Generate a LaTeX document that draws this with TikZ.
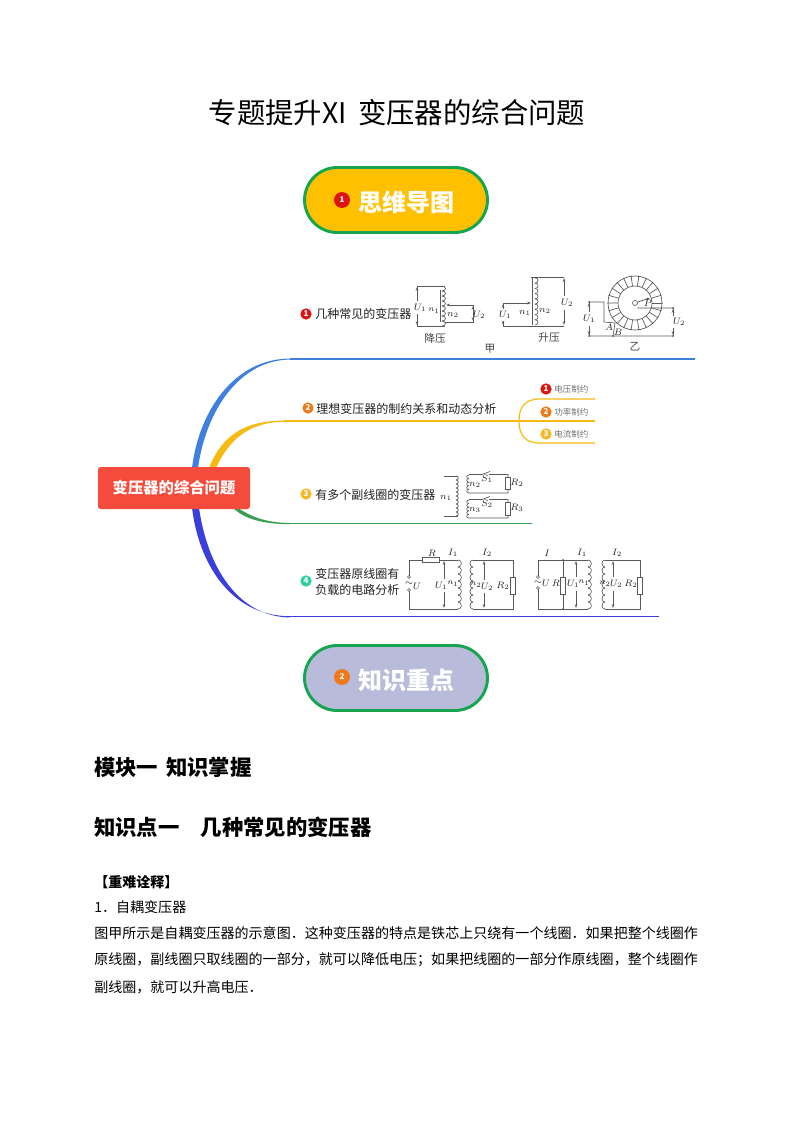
\documentclass[tikz,border=0pt]{standalone}
\usepackage{fontspec}
\setmainfont{Noto Sans CJK SC}
\usetikzlibrary{arrows.meta}
\definecolor{wire}{HTML}{5A5A5A}
\definecolor{ink}{HTML}{222222}
\definecolor{blueb}{HTML}{3F80DE}
\definecolor{goldb}{HTML}{F5BB12}
\definecolor{greenb}{HTML}{3A9D50}
\definecolor{navyb}{HTML}{3A3EDB}
\definecolor{rootred}{HTML}{F44C3C}
\definecolor{bred}{HTML}{DD1410}
\definecolor{borange}{HTML}{EE7A1A}
\definecolor{bgold}{HTML}{F6B926}
\definecolor{bgreen}{HTML}{2FD0A0}
\definecolor{pillgreen}{HTML}{18A552}
\definecolor{pillgold}{HTML}{FFC000}
\definecolor{pillblue}{HTML}{B8BBD9}
\newcounter{lb}
\newcommand\fsz[1]{\fontsize{#1}{#1}\selectfont}
\newcommand\lbl[3][cirlabel]{\stepcounter{lb}\node[#1] (t\thelb) at (#2) {#3};}
\newcommand\coil[5]{\foreach \ci in {1,...,#4}{
  \pgfmathsetmacro\ya{#2+(\ci-1)*(#3-#2)/#4}
  \pgfmathsetmacro\yb{#2+\ci*(#3-#2)/#4}
  \draw[cw] (#1,\ya) .. controls (#1+#5,\ya) and (#1+#5,\yb) .. (#1,\yb);}}
\newcommand\badge[4]{\stepcounter{lb}\node[badgenode,fill=#3,minimum size=#4] (t\thelb) at (#1) {#2};}
\tikzset{
 cw/.style={draw=wire,line width=.5pt},
 tipstart/.style={cw,{Stealth[length=3pt,width=2pt]}-},
 tipend/.style={cw,-{Stealth[length=3pt,width=2pt]}},
 cirlabel/.style={inner sep=0,text=ink,font=\fsz{7}},
 smalllabel/.style={inner sep=0,text=ink,font=\fsz{6}},
 cjklabel/.style={inner sep=0,text=ink!85,font=\fsz{8}},
 maintext/.style={inner sep=0,anchor=west,text=ink,font=\fsz{9}},
 subtext/.style={inner sep=0,anchor=west,text=black!55,font=\fsz{6.4}},
 bodytext/.style={inner sep=0,anchor=west,text=black,font=\fsz{10.53}},
 heading/.style={inner sep=0,anchor=west,text=black,font=\fsz{16}\bfseries},
 badgenode/.style={circle,inner sep=0,text=white,font=\fsz{6}\bfseries},
 resbox/.style={draw=wire,line width=.5pt,fill=white},
 pill/.style={rounded corners=24.5pt,line width=2.2pt,draw=pillgreen},
 pilltext/.style={inner sep=0,text=white,font=\fsz{18}\bfseries},
 dotmark/.style={fill=wire,draw=none}
}
\begin{document}
\begin{tikzpicture}[x=.75pt,y=-.75pt]
\useasboundingbox[fill=white] (0,0) rectangle (794,1123);
% title
\lbl[inner sep=0,text=black,font=\fsz{21.3}]{397,113}{专题提升XI\hspace{8.5pt}变压器的综合问题}
% pills
\path[pill,fill=pillgold] (304.5,167.5) rectangle (487.5,232.5);
\badge{342,200}{1}{bred}{12pt}
\lbl[pilltext]{406.5,202}{思维导图}
\path[pill,fill=pillblue] (304.5,645.5) rectangle (487.5,710.5);
\badge{342,677}{2}{borange}{12pt}
\lbl[pilltext]{406.5,680}{知识重点}
% branches
\fill[blueb] (192,468) .. controls (199,410) and (235,358.6) .. (290,358.6) -- (290,359.6) .. controls (240,360) and (206,410) .. (198,468) -- cycle;
\draw[blueb,line width=1pt] (290,359) -- (695,359);
\fill[goldb] (209,468) .. controls (222,435) and (245,420.6) .. (284,420.6) -- (284,421.8) .. controls (252,422) and (230,437) .. (216,468) -- cycle;
\draw[goldb,line width=1pt] (284,421) -- (595,421);
\fill[greenb] (238,508) .. controls (250,516) and (265,522.8) .. (290,523) -- (290,524.2) .. controls (262,524) and (245,519) .. (233,508) -- cycle;
\draw[greenb,line width=1pt] (290,523.6) -- (532,523.6);
\fill[navyb] (192,508) .. controls (200,570) and (235,616.2) .. (290,616.2) -- (290,617.4) .. controls (240,617) and (208,570) .. (199,508) -- cycle;
\draw[navyb,line width=1pt] (290,616.8) -- (659,616.8);
% sub branches
\draw[goldb,line width=.9pt] (540,399) -- (595,399) (540,399) .. controls (525,399) and (519,407) .. (519,421) .. controls (519,435) and (525,443) .. (540,443) -- (595,443);
% root
\node[fill=rootred,rounded corners=2pt,minimum width=114pt,minimum height=31.5pt,inner sep=0,text=white,font=\fsz{11.5}\bfseries] (root) at (174,488) {变压器的综合问题};
% branch 1
\badge{306,314}{1}{bred}{8.5pt}
\lbl[maintext]{315,314}{几种常见的变压器}
% step-down
\draw[cw] (417,301) -- (417,286) -- (445,286) (417,314) -- (417,326) -- (445,326) (473,305) -- (473,322) -- (445,322);
\draw[tipend] (473,305) -- (446,305);
\draw[tipstart] (417,287) -- (417,301);
\draw[tipstart] (417,325) -- (417,314);
\draw[tipstart] (473,306) -- (473,310);
\draw[tipstart] (473,321) -- (473,317);
\draw[cw,line width=.7pt] (440,290) -- (440,322);
\coil{442}{286}{326}{8}{4.5}
\lbl{420,308}{$U_1$}\lbl[smalllabel]{434,311}{$n_1$}\lbl{453,315}{$n_2$}\lbl{479,315}{$U_2$}
\lbl[cjklabel]{435,338}{降压}
% step-up
\draw[cw] (531,277) -- (564,277) (503,309) -- (503,303) (503,321) -- (503,326) -- (564,326);
\draw[tipend] (503,303) -- (531,303);
\draw[tipstart] (564,278) -- (564,296);
\draw[tipstart] (564,325) -- (564,310);
\draw[tipstart] (503,304) -- (503,309);
\draw[tipstart] (503,325) -- (503,321);
\draw[cw,line width=.7pt] (532,278) -- (532,325);
\coil{535}{278}{325}{9}{4}
\lbl{505,315}{$U_1$}\lbl{525,313}{$n_1$}\lbl{545,311}{$n_2$}\lbl{567,303}{$U_2$}
\lbl[cjklabel]{549,338}{升压}
\lbl[cjklabel]{490,349}{甲}
% toroid
\draw[cw] (635,303) circle (27) (635,303) circle (17);
\foreach \ang in {0,16.36,...,345}{
  \draw[cw] ({635+17*cos(\ang)},{303+17*sin(\ang)}) -- ({635+27*cos(\ang)},{303+27*sin(\ang)});
  \fill[dotmark] ({635+27*cos(\ang)},{303+27*sin(\ang)}) circle (.7);}
\draw[cw,fill=white] (635,303) circle (2.5);
\draw[tipend] (638,302) -- (650,298);
\draw[cw] (589,302) -- (604,302) -- (604,322) -- (615,323) (637,308) -- (673,308) (589,336) -- (673,336) (613,336) -- (615,323);
\draw[cw] (589,312) -- (589,302) (589,326) -- (589,336) (673,308) -- (673,316) (673,328) -- (673,336);
\draw[tipstart] (589,303) -- (589,312);
\draw[tipstart] (589,335) -- (589,326);
\draw[tipstart] (673,309) -- (673,316);
\draw[tipstart] (673,335) -- (673,328);
\foreach \dotx/\doty in {589/302,589/336,673/308,673/336,613/336}{\fill[dotmark] (\dotx,\doty) circle (1);}
\lbl{589,319}{$U_1$}\lbl{679,322}{$U_2$}\lbl{648,303}{$P$}\lbl{609,327}{$A$}\lbl{618,332}{$B$}
\lbl[cjklabel]{635,347}{乙}
% branch 2
\badge{308,408}{2}{borange}{8.5pt}
\lbl[maintext]{316,409}{理想变压器的制约关系和动态分析}
\badge{546,389}{1}{bred}{8.5pt}\lbl[subtext]{554,389.5}{电压制约}
\badge{546,412}{2}{borange}{8.5pt}\lbl[subtext]{554,412}{功率制约}
\badge{546,434}{3}{bgold}{8.5pt}\lbl[subtext]{554,434.5}{电流制约}
% branch 3
\badge{306,494}{3}{bgold}{8.5pt}
\lbl[maintext]{315,495}{有多个副线圈的变压器}
\draw[cw] (444,476) -- (458,476) (444,516) -- (458,516);
\coil{456}{476}{516}{10}{3}
\coil{469}{475}{493}{5}{-3}
\coil{469}{500}{518}{5}{-3}
\draw[cw] (469,474.5) -- (482,474.5) -- (490,471.5) (489,474.5) -- (508,474.5) -- (508,493) -- (469,493);
\draw[cw] (469,499.5) -- (482,499.5) -- (490,496.5) (489,499.5) -- (508,499.5) -- (508,518) -- (469,518);
\draw[resbox] (505.5,477) rectangle (510.5,489);
\draw[resbox] (505.5,502) rectangle (510.5,515);
\lbl{446,498}{$n_1$}\lbl{475,485}{$n_2$}\lbl{475,510}{$n_3$}
\lbl{487,479}{$S_1$}\lbl{487,504}{$S_2$}\lbl{517,483}{$R_2$}\lbl{517,508}{$R_3$}
% branch 4
\badge{306,581}{4}{bgreen}{8.5pt}
\lbl[maintext]{315,574}{变压器原线圈有}
\lbl[maintext]{315,590}{负载的电路分析}
% circuit a
\draw[cw] (409,577) -- (409,560) -- (458,560) (409,590) -- (409,609) -- (458,609);
\draw[resbox] (422,557.5) rectangle (439,562.5);
\draw[cw,fill=white] (409,577) circle (1.5) (409,590) circle (1.5);
\coil{458}{560}{609}{7}{4.5}
\draw[tipstart] (444,561) -- (444,579); \draw[tipstart] (444,608) -- (444,592);
\coil{473}{560}{609}{7}{-4}
\draw[cw] (473,560) -- (513,560) -- (513,609) -- (473,609);
\draw[resbox] (510.5,577) rectangle (515.5,594);
\draw[tipstart] (484,561) -- (484,580); \draw[tipstart] (484,608) -- (484,593);
\lbl{432,553}{$R$}\lbl{453,553}{$I_1$}\lbl{487,553}{$I_2$}\lbl{409,583.5}{$\sim$}\lbl{417,586}{$U$}
\lbl{441,586}{$U_1$}\lbl[smalllabel]{453,584}{$n_1$}\lbl[smalllabel]{476,585}{$n_2$}\lbl{487,587}{$U_2$}\lbl{503,586}{$R_2$}
% circuit b
\draw[cw] (538,577) -- (538,560) -- (588,560) (538,588) -- (538,609) -- (588,609) (563,560) -- (563,609);
\draw[resbox] (560.5,577) rectangle (565.5,594);
\fill[dotmark] (563,560) circle (1) (563,609) circle (1);
\draw[cw,fill=white] (538,577) circle (1.5) (538,588) circle (1.5);
\coil{588}{560}{609}{7}{4.5}
\draw[tipstart] (576,561) -- (576,577); \draw[tipstart] (576,608) -- (576,591);
\coil{605}{560}{609}{7}{-4}
\draw[cw] (605,560) -- (640,560) -- (640,609) -- (605,609);
\draw[resbox] (637.5,577) rectangle (642.5,594);
\draw[tipstart] (613,561) -- (613,577); \draw[tipstart] (613,608) -- (613,591);
\lbl{547,553}{$I$}\lbl{582,553}{$I_1$}\lbl{617,553}{$I_2$}\lbl{538,582.5}{$\sim$}\lbl{546,583}{$U$}\lbl{556,583}{$R$}
\lbl{573,584}{$U_1$}\lbl[smalllabel]{584,583}{$n_1$}\lbl[smalllabel]{605,584}{$n_2$}\lbl{616,584}{$U_2$}\lbl{631,584}{$R_2$}
% text
\lbl[heading]{94,767}{模块一\hspace{6pt}知识掌握}
\lbl[heading]{94,827}{知识点一\hspace{16pt}几种常见的变压器}
\lbl[bodytext,font=\fsz{10.5}\bfseries]{94,882}{【重难诠释】}
\lbl[bodytext]{94,907}{1．自耦变压器}
\lbl[bodytext]{94,933}{图甲所示是自耦变压器的示意图．这种变压器的特点是铁芯上只绕有一个线圈．如果把整个线圈作}
\lbl[bodytext]{94,960}{原线圈，副线圈只取线圈的一部分，就可以降低电压；如果把线圈的一部分作原线圈，整个线圈作}
\lbl[bodytext]{94,987}{副线圈，就可以升高电压．}
\end{tikzpicture}
\end{document}
